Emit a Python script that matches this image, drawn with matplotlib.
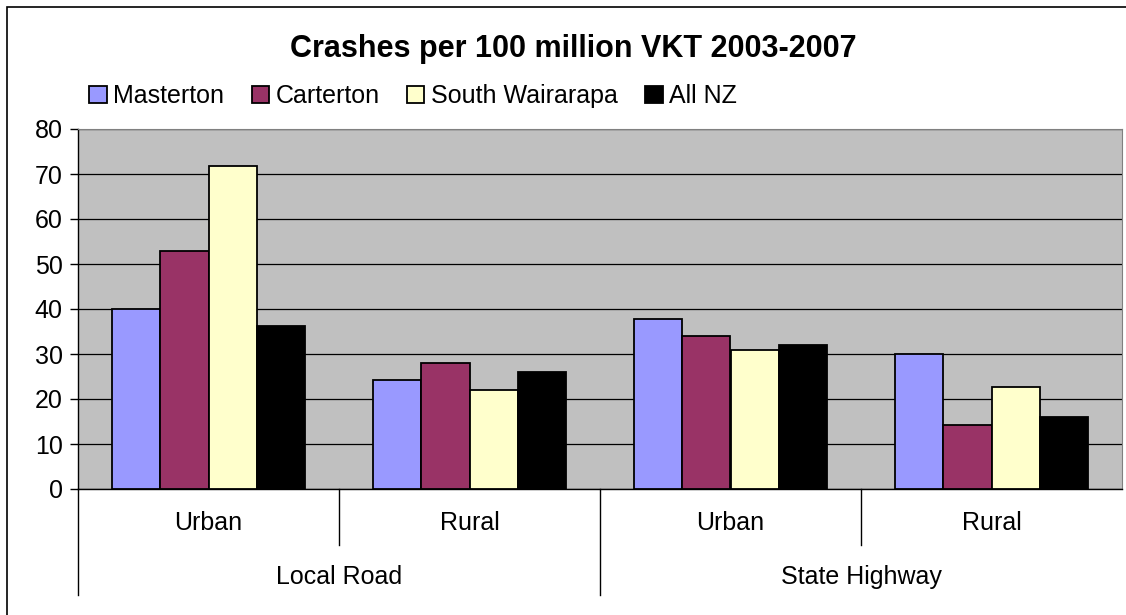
import numpy as np
import matplotlib.pyplot as plt
from matplotlib.patches import Rectangle
import matplotlib.transforms as mtransforms

plt.rcParams['font.family'] = ['Liberation Sans', 'DejaVu Sans']

# data
sub_labels = ['Urban', 'Rural', 'Urban', 'Rural']
group_labels = ['Local Road', 'State Highway']
series_names = ['Masterton', 'Carterton', 'South Wairarapa', 'All NZ']
masterton = [40, 24.2, 37.8, 30]
carterton = [53, 28, 34, 14.2]
south_wairarapa = [71.8, 22, 31, 22.7]
all_nz = [36.2, 26, 32, 16]
colors = ['#9999FF', '#993366', '#FFFFCC', '#000000']

fig = plt.figure(figsize=(11.26, 6.15), dpi=100)
ax = fig.add_axes([78 / 1126, 1 - 489 / 615, (1122 - 78) / 1126, 360 / 615])

# outer chart border
fig.patches.append(Rectangle((7 / 1126, -0.1), 1.2, 1 - 7 / 615 + 0.1,
                             transform=fig.transFigure, fill=False,
                             edgecolor='black', linewidth=1.2))

x = np.arange(len(sub_labels))
w = 0.184
all_series = [masterton, carterton, south_wairarapa, all_nz]
for i, (vals, name, c) in enumerate(zip(all_series, series_names, colors)):
    ax.bar(x + (i - 1.5) * w, vals, width=w, color=c, edgecolor='black',
           linewidth=1.3, label=name, zorder=3)

fs = 18
ax.set_facecolor('#C0C0C0')
ax.set_xlim(-0.5, 3.5)
ax.set_ylim(0, 80)
ax.set_yticks(range(0, 81, 10))
ax.yaxis.grid(True, color='black', linewidth=0.9, zorder=1)
ax.tick_params(axis='y', direction='out', length=6, width=1, labelsize=fs, pad=5)
ax.set_xticks([])
for s in ['top', 'right']:
    ax.spines[s].set_color('#808080')
for s in ['left', 'bottom']:
    ax.spines[s].set_color('black')
    ax.spines[s].set_linewidth(1)

# multi-level category axis
trans = mtransforms.blended_transform_factory(ax.transData, ax.transAxes)
short = 56 / 360
long_ = 106 / 360
for xb, ln in [(-0.5, long_), (0.5, short), (1.5, long_), (2.5, short)]:
    ax.plot([xb, xb], [0, -ln], transform=trans, color='black',
            linewidth=1, clip_on=False)
for xi, lab in zip(x, sub_labels):
    ax.text(xi, -34 / 360, lab, transform=trans, ha='center', va='center',
            fontsize=fs)
for gi, lab in enumerate(group_labels):
    ax.text(gi * 2 + 0.5, -88 / 360, lab, transform=trans, ha='center',
            va='center', fontsize=fs)

fig.text(573 / 1126, 1 - 49 / 615, 'Crashes per 100 million VKT 2003-2007',
         ha='center', va='center', fontsize=22, fontweight='bold')

fig.legend(loc='center', bbox_to_anchor=(413 / 1126, 1 - 96 / 615), ncol=4,
           frameon=False, fontsize=fs, handlelength=0.7, handleheight=0.7,
           handletextpad=0.25, columnspacing=1.1, borderpad=0)

fig.savefig('out.png', dpi=100)
